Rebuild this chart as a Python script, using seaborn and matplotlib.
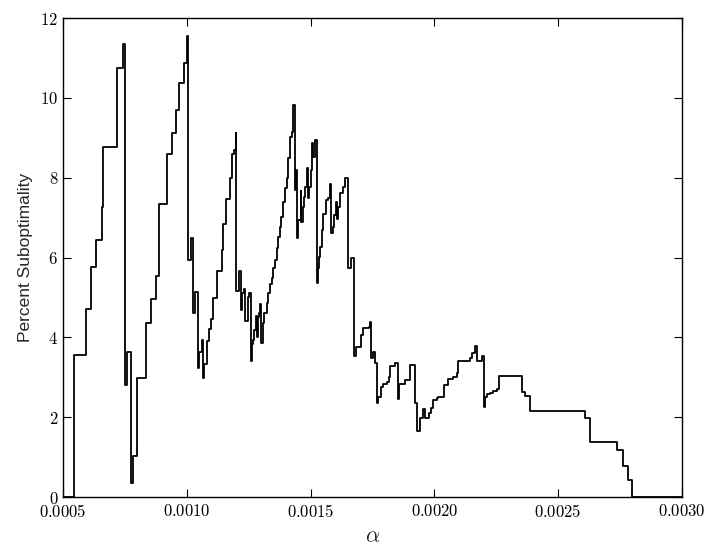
import numpy as np
import pandas as pd
import matplotlib
matplotlib.use("Agg")
import matplotlib.pyplot as plt
import seaborn as sns
from matplotlib.ticker import FuncFormatter, MultipleLocator

# ============================================================
# Data (alpha in units of 1e-4, step changes)
# ============================================================

ALPHA_E4 = [
    5.000, 5.456, 5.917, 6.131, 6.333, 6.563, 6.603, 7.193, 7.411, 7.516,
    7.573, 7.734, 7.815, 8.001, 8.352, 8.542, 8.744, 8.889, 9.188, 9.402,
    9.564, 9.685, 9.887, 9.996, 10.048, 10.182, 10.238, 10.343, 10.452, 10.505,
    10.602, 10.642, 10.695, 10.804, 10.897, 10.965, 11.070, 11.208, 11.410, 11.474,
    11.571, 11.745, 11.838, 11.906, 11.975, 11.987, 12.120, 12.177, 12.229, 12.322,
    12.363, 12.460, 12.524, 12.593, 12.621, 12.686, 12.726, 12.783, 12.823, 12.863,
    12.916, 12.956, 12.997, 13.065, 13.130, 13.227, 13.292, 13.360, 13.429, 13.494,
    13.562, 13.631, 13.696, 13.764, 13.805, 13.897, 13.966, 14.035, 14.099, 14.168,
    14.237, 14.277, 14.370, 14.410, 14.439, 14.479, 14.600, 14.624, 14.681, 14.733,
    14.786, 14.842, 14.883, 14.935, 15.004, 15.069, 15.109, 15.166, 15.246, 15.287,
    15.339, 15.380, 15.448, 15.513, 15.610, 15.691, 15.784, 15.824, 15.893, 15.945,
    16.026, 16.078, 16.119, 16.187, 16.296, 16.389, 16.498, 16.632, 16.765, 16.834,
    17.023, 17.128, 17.347, 17.399, 17.439, 17.508, 17.601, 17.670, 17.734, 17.831,
    17.936, 18.074, 18.179, 18.207, 18.409, 18.542, 18.582, 18.813, 19.015, 19.217,
    19.309, 19.418, 19.552, 19.620, 19.794, 19.863, 19.956, 20.093, 20.158, 20.388,
    20.561, 20.763, 20.901, 20.965, 21.438, 21.506, 21.640, 21.708, 21.935, 22.015,
    22.056, 22.137, 22.246, 22.379, 22.516, 22.621, 23.526, 23.659, 23.861, 26.082,
    26.284, 27.387, 27.629, 27.831, 27.993, 30.000,
]

SUBOPT = [
    0.00, 3.56, 4.71, 5.77, 6.44, 7.26, 8.77, 10.75, 11.35, 2.80,
    3.63, 0.36, 1.03, 2.97, 4.36, 4.96, 5.54, 7.34, 8.59, 9.13,
    9.69, 10.37, 10.88, 11.56, 5.94, 6.49, 4.61, 5.14, 3.24, 3.63,
    3.93, 2.98, 3.33, 3.91, 4.21, 4.46, 4.99, 5.67, 6.19, 6.84,
    7.46, 7.99, 8.59, 8.69, 9.11, 5.17, 5.67, 4.68, 5.10, 5.20,
    4.42, 5.02, 5.10, 3.41, 3.83, 3.93, 4.18, 4.53, 4.02, 4.52,
    4.60, 4.83, 3.85, 4.35, 4.60, 4.85, 5.10, 5.34, 5.49, 5.74,
    5.94, 6.24, 6.52, 6.77, 7.01, 7.40, 7.74, 7.99, 8.49, 9.02,
    9.15, 9.82, 7.69, 8.19, 6.49, 6.94, 7.66, 6.90, 7.27, 7.52,
    7.77, 8.24, 7.49, 7.77, 8.19, 8.88, 8.52, 8.94, 5.37, 5.74,
    6.02, 6.27, 6.69, 7.10, 7.44, 7.49, 7.84, 6.62, 6.77, 7.06,
    7.40, 6.96, 7.27, 7.62, 7.77, 8.00, 5.73, 6.00, 3.53, 3.77,
    4.06, 4.23, 4.27, 4.39, 3.49, 3.64, 3.36, 2.36, 2.50, 2.76,
    2.83, 2.89, 3.01, 3.28, 3.36, 2.45, 2.83, 2.93, 3.31, 2.35,
    1.65, 1.99, 2.20, 1.97, 2.10, 2.22, 2.43, 2.47, 2.51, 2.81,
    2.95, 3.01, 3.11, 3.41, 3.47, 3.60, 3.78, 3.41, 3.53, 2.26,
    2.51, 2.58, 2.61, 2.66, 2.70, 3.03, 2.64, 2.53, 2.16, 1.99,
    1.37, 1.19, 0.78, 0.43, 0.00, 0.00,
]

X_TICKS = [0.0005, 0.0010, 0.0015, 0.0020, 0.0025, 0.0030]

# ============================================================
# Plot
# ============================================================

sns.set_style("ticks")
plt.rcParams["font.family"] = ["Liberation Sans", "DejaVu Sans"]
plt.rcParams["mathtext.fontset"] = "cm"

df = pd.DataFrame({"alpha": np.array(ALPHA_E4) * 1e-4, "subopt": SUBOPT})

fig = plt.figure(figsize=(7.11, 5.51), dpi=100)
ax = fig.add_axes([0.0886, 0.098, 0.8706, 0.8693])

sns.lineplot(data=df, x="alpha", y="subopt", ax=ax, drawstyle="steps-post",
             color="black", linewidth=1.3, estimator=None, sort=False)

ax.set_xlim(X_TICKS[0], X_TICKS[-1])
ax.set_ylim(0, 12)
ax.set_xticks(X_TICKS)
ax.yaxis.set_major_locator(MultipleLocator(2))
ax.xaxis.set_major_formatter(FuncFormatter(lambda v, p: f"${v:.4f}$"))
ax.yaxis.set_major_formatter(FuncFormatter(lambda v, p: f"${v:.0f}$"))

ax.tick_params(direction="in", length=5.5, width=0.8, top=True, right=True,
               labelsize=12, colors="black")
ax.tick_params(axis="x", pad=4)
for sp in ax.spines.values():
    sp.set_visible(True)
    sp.set_linewidth(1.0)
    sp.set_color("black")

ax.set_xlabel(r"$\alpha$", fontsize=16, labelpad=5)
ax.set_ylabel("Percent Suboptimality", fontsize=12.5, labelpad=5)

plt.savefig("out.png", dpi=100)
plt.close()
